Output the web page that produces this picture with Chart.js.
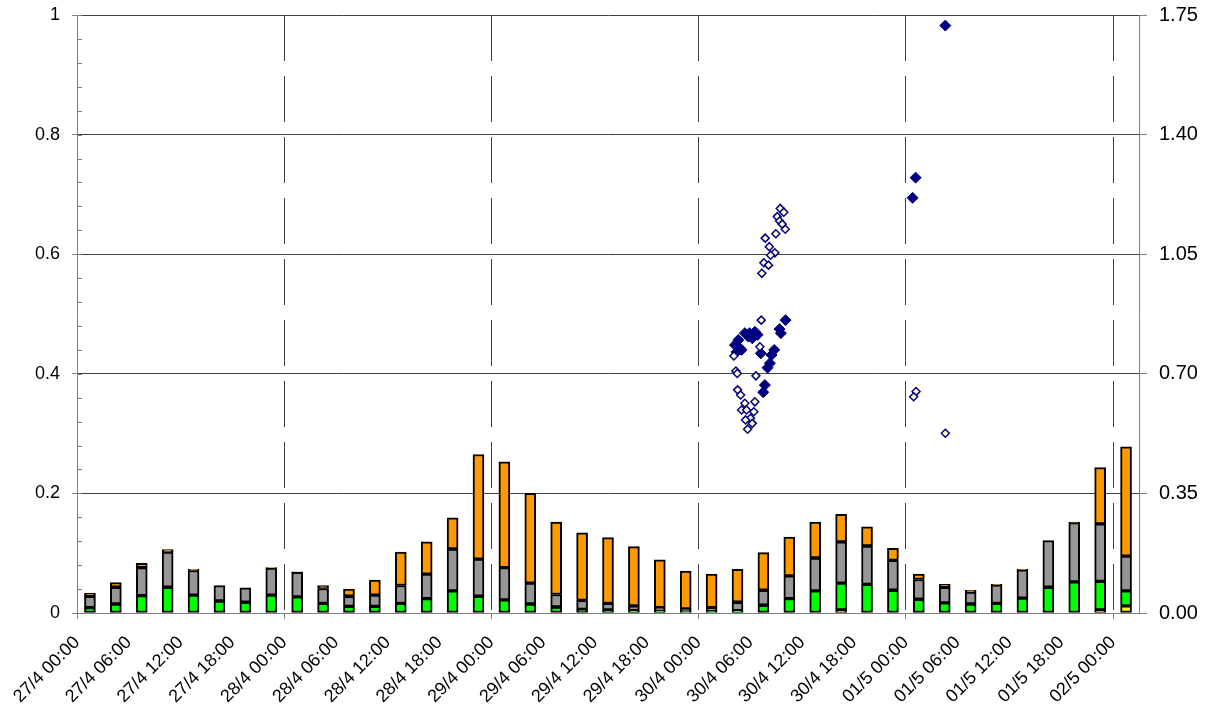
<!DOCTYPE html>
<html>
<head>
<meta charset="utf-8">
<script src="https://cdn.jsdelivr.net/npm/chart.js@4.4.1/dist/chart.umd.min.js"></script>
<style>
  html, body { margin: 0; padding: 0; background: #fff; }
  #wrap { width: 1213px; height: 715px; }
</style>
</head>
<body>
<div id="wrap"><canvas id="chart" width="1213" height="715"></canvas></div>
<script>
// 3-hour slots (start of each interval), one stacked bar per slot
const barSlots = [
    "27/4 00:00", "27/4 03:00", "27/4 06:00", "27/4 09:00", "27/4 12:00", "27/4 15:00", "27/4 18:00", "27/4 21:00",
    "28/4 00:00", "28/4 03:00", "28/4 06:00", "28/4 09:00", "28/4 12:00", "28/4 15:00", "28/4 18:00", "28/4 21:00",
    "29/4 00:00", "29/4 03:00", "29/4 06:00", "29/4 09:00", "29/4 12:00", "29/4 15:00", "29/4 18:00", "29/4 21:00",
    "30/4 00:00", "30/4 03:00", "30/4 06:00", "30/4 09:00", "30/4 12:00", "30/4 15:00", "30/4 18:00", "30/4 21:00",
    "01/5 00:00", "01/5 03:00", "01/5 06:00", "01/5 09:00", "01/5 12:00", "01/5 15:00", "01/5 18:00", "01/5 21:00",
    "02/5 00:00"
];

const yellowData = [
    0, 0, 0, 0, 0, 0, 0, 0,
    0, 0, 0, 0, 0, 0, 0, 0,
    0, 0, 0, 0, 0, 0, 0, 0,
    0, 0, 0, 0, 0, 0.005, 0, 0,
    0, 0, 0, 0, 0, 0, 0, 0.005,
    0.012
];
const greenData = [
    0.009, 0.015, 0.029, 0.043, 0.030, 0.020, 0.018, 0.030,
    0.027, 0.016, 0.011, 0.011, 0.016, 0.024, 0.037, 0.028,
    0.022, 0.015, 0.010, 0.006, 0.005, 0.004, 0.004, 0.003,
    0.003, 0.004, 0.013, 0.024, 0.037, 0.045, 0.048, 0.038,
    0.023, 0.017, 0.015, 0.016, 0.025, 0.043, 0.052, 0.048,
    0.025
];
const grayData = [
    0.019, 0.028, 0.047, 0.059, 0.041, 0.026, 0.024, 0.045,
    0.041, 0.025, 0.017, 0.019, 0.030, 0.041, 0.070, 0.062,
    0.054, 0.035, 0.021, 0.015, 0.011, 0.008, 0.005, 0.004,
    0.006, 0.014, 0.025, 0.038, 0.055, 0.069, 0.064, 0.050,
    0.033, 0.026, 0.020, 0.031, 0.047, 0.078, 0.099, 0.096,
    0.058
];
const orangeData = [
    0.005, 0.008, 0.007, 0.004, 0.002, 0, 0, 0.001,
    0.001, 0.005, 0.012, 0.025, 0.056, 0.054, 0.052, 0.175,
    0.177, 0.150, 0.121, 0.113, 0.110, 0.099, 0.080, 0.063,
    0.056, 0.055, 0.063, 0.065, 0.060, 0.046, 0.032, 0.020,
    0.009, 0.005, 0.003, 0.001, 0.001, 0, 0.001, 0.094,
    0.183
];

// scatter points: hours since 27/4 00:00, values on the right axis
const hollowHours = [
    81.45, 81.86, 81.10, 81.37, 81.68, 82.03, 80.94, 79.71, 80.18, 80.82, 80.33, 79.55, 80.09, 79.32,
    79.25, 79.09, 76.08, 76.31, 76.47, 78.63, 76.51, 76.86, 78.51, 77.35, 76.97, 77.55, 78.39, 78.01,
    77.43, 78.21, 77.67,
    97.18, 96.90, 100.57
];
const hollowValues = [
    1.184, 1.173, 1.160, 1.147, 1.138, 1.123, 1.110, 1.097, 1.072, 1.054, 1.047, 1.025, 1.018, 0.994,
    0.857, 0.779, 0.752, 0.708, 0.701, 0.694, 0.653, 0.638, 0.618, 0.614, 0.594, 0.594, 0.589, 0.570,
    0.565, 0.555, 0.538,
    0.648, 0.633, 0.526
];
const filledHours = [
    82.06, 81.37, 81.52, 77.35, 77.75, 78.51, 78.82, 78.21, 76.59, 76.20, 76.77, 76.97,
    76.39, 77.90, 79.20, 80.75, 80.44, 80.25, 79.98, 79.67, 79.48,
    96.78, 97.13, 100.57
];
const filledValues = [
    0.857, 0.831, 0.819, 0.819, 0.809, 0.823, 0.814, 0.804, 0.799, 0.784, 0.775, 0.770,
    0.764, 0.819, 0.760, 0.770, 0.755, 0.731, 0.718, 0.667, 0.646,
    1.215, 1.274, 1.719
];

const xTickLabels = [
    "27/4 00:00", "27/4 06:00", "27/4 12:00", "27/4 18:00",
    "28/4 00:00", "28/4 06:00", "28/4 12:00", "28/4 18:00",
    "29/4 00:00", "29/4 06:00", "29/4 12:00", "29/4 18:00",
    "30/4 00:00", "30/4 06:00", "30/4 12:00", "30/4 18:00",
    "01/5 00:00", "01/5 06:00", "01/5 12:00", "01/5 18:00",
    "02/5 00:00"
];

function hoursFromStart(label) {
    const [d, t] = label.split(" ");
    const [day, month] = d.split("/").map(Number);
    const [hh, mm] = t.split(":").map(Number);
    return (Date.UTC(2000, month - 1, day, hh, mm) - Date.UTC(2000, 3, 27, 0, 0)) / 3600000;
}

// bars sit in the middle of their 3h interval
const barX = barSlots.map(s => hoursFromStart(s) + 1.5);

function barSet(label, values, color) {
    return {
        type: 'bar',
        label: label,
        data: values.map((v, i) => ({ x: barX[i], y: v })),
        backgroundColor: color,
        borderColor: '#000',
        borderWidth: 2,
        borderSkipped: false,
        barThickness: 11,
        yAxisID: 'y',
        order: 1
    };
}

function isDay(v) { return v > 0 && v % 24 === 0; }

// fixed axis sizes so the plot area lands where the original one is
function fixWidth(w) {
    return s => { s.width = w; s.paddingTop = 0; s.paddingBottom = 0; };
}

// small inside ticks on the left axis, every 0.04
const minorTicks = {
    id: 'minorTicks',
    afterDraw(chart) {
        const y = chart.scales.y;
        const ctx = chart.ctx;
        ctx.save();
        ctx.strokeStyle = '#808080';
        ctx.lineWidth = 1;
        for (let i = 0; i <= 25; i++) {
            const py = Math.round(y.getPixelForValue(i * 0.04)) + 0.5;
            ctx.beginPath();
            ctx.moveTo(y.right, py);
            ctx.lineTo(y.right + 5, py);
            ctx.stroke();
        }
        ctx.restore();
    }
};

Chart.defaults.font.family = "Arial, 'Liberation Sans', sans-serif";
Chart.defaults.color = '#000';

new Chart(document.getElementById('chart'), {
    type: 'bar',
    data: {
        datasets: [
            {
                type: 'scatter',
                label: 'open',
                data: hollowHours.map((h, i) => ({ x: h, y: hollowValues[i] })),
                yAxisID: 'y2',
                pointStyle: 'rectRot',
                pointRadius: 4,
                pointBackgroundColor: '#FFFFCC',
                pointBorderColor: '#000080',
                pointBorderWidth: 1.5,
                order: 0
            },
            {
                type: 'scatter',
                label: 'filled',
                data: filledHours.map((h, i) => ({ x: h, y: filledValues[i] })),
                yAxisID: 'y2',
                pointStyle: 'rectRot',
                pointRadius: 5.5,
                pointBackgroundColor: '#000080',
                pointBorderColor: '#000080',
                pointBorderWidth: 1,
                order: 0
            },
            barSet('yellow', yellowData, '#FFFF00'),
            barSet('green', greenData, '#00FF00'),
            barSet('gray', grayData, '#969696'),
            barSet('orange', orangeData, '#FF9900')
        ]
    },
    options: {
        responsive: false,
        animation: false,
        layout: { padding: { top: 15, left: 0, right: 0, bottom: 0 } },
        plugins: {
            legend: { display: false },
            tooltip: { enabled: false }
        },
        scales: {
            x: {
                type: 'linear',
                min: 0,
                max: 123,
                offset: false,
                stacked: true,
                grid: {
                    offset: false,
                    color: ctx => isDay(ctx.tick.value) ? '#404040' : 'rgba(0,0,0,0)',
                    lineWidth: 1,
                    tickLength: 6,
                    tickColor: ctx => ctx.tick.value % 24 === 0 ? '#808080' : 'rgba(0,0,0,0)'
                },
                border: { color: '#808080', width: 1, dash: [46, 15] },
                ticks: {
                    stepSize: 6,
                    autoSkip: false,
                    includeBounds: false,
                    minRotation: 45,
                    maxRotation: 45,
                    padding: 13,
                    font: { size: 18 },
                    callback: v => xTickLabels[Math.round(v / 6)] ?? ''
                },
                afterFit: s => { s.height = 102; s.paddingLeft = 0; s.paddingRight = 0; }
            },
            y: {
                position: 'left',
                min: 0,
                max: 1,
                stacked: true,
                ticks: { stepSize: 0.2, padding: 12, font: { size: 18 }, callback: v => String(parseFloat(v.toFixed(2))) },
                grid: { color: '#404040', tickColor: '#808080', tickLength: 5 },
                border: { color: '#808080' },
                afterFit: fixWidth(77)
            },
            y2: {
                position: 'right',
                min: 0,
                max: 1.75,
                ticks: { stepSize: 0.35, padding: 12, font: { size: 20 }, callback: v => v.toFixed(2) },
                grid: { drawOnChartArea: false, tickColor: '#808080', tickLength: 8 },
                border: { color: '#808080' },
                afterFit: fixWidth(74)
            }
        }
    },
    plugins: [minorTicks]
});
</script>
</body>
</html>
